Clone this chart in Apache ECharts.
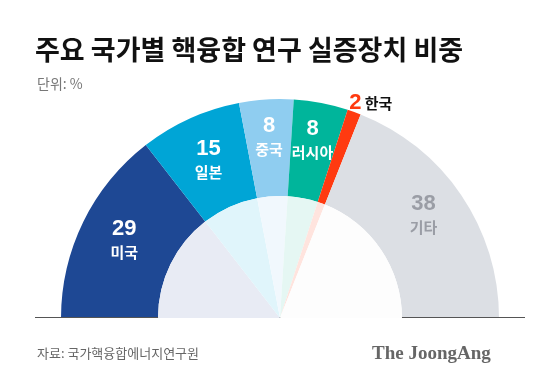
<!DOCTYPE html>
<html><head><meta charset="utf-8">
<script src="https://cdn.jsdelivr.net/npm/echarts@6/dist/echarts.min.js"></script>
<style>html,body{margin:0;padding:0;background:#fff}#c{width:559px;height:382px}</style>
</head><body><div id="c"></div>
<script>
const categories = ['미국', '일본', '중국', '러시아', '한국', '기타'];
const values = [29, 15, 8, 8, 2, 38];
const outerColors = ['#1e4894', '#00a5d6', '#8fcdf0', '#00b59b', '#ff3a10', '#dcdfe4'];
const innerColors = ['#e8ebf4', '#e0f5fb', '#f1f8fd', '#e5f7f3', '#ffe4de', '#fdfdfd'];
const labelOffsets = [[0, -2], [0, 0], [0, -8], [0, -8], [-7, -3], [0, -6]];

const FONT = '"Noto Sans CJK KR", "Noto Sans", sans-serif';
const NUMFONT = '"Liberation Sans", Arial, sans-serif';
const CX = 280, CY = 318;

const outerData = categories.map((name, i) => {
  const isKorea = name === '한국';
  const isOther = name === '기타';
  return {
    name, value: values[i],
    itemStyle: { color: outerColors[i] },
    label: isKorea ? {
      show: true, position: 'outside', distanceToLabelLine: 0, offset: labelOffsets[i],
      formatter: '{r|' + values[i] + '} {k|' + name + '}',
      rich: {
        r: { fontSize: 22, fontWeight: 'bold', color: '#ff3a10', fontFamily: NUMFONT },
        k: { fontSize: 15, color: '#111', fontFamily: FONT, fontWeight: 'bold', padding: [0, 0, 0, 0] }
      }
    } : {
      show: true, position: 'inside', offset: labelOffsets[i],
      formatter: '{v|' + values[i] + '}\n{n|' + name + '}',
      rich: {
        v: { fontSize: 22, fontWeight: 'bold', color: isOther ? '#9a9da5' : '#fff', fontFamily: NUMFONT, lineHeight: 25, align: 'center' },
        n: { fontSize: 15, fontWeight: 'bold', color: isOther ? '#9a9da5' : '#fff', fontFamily: FONT, lineHeight: 21, align: 'center' }
      }
    },
    labelLine: isKorea ? { show: false, length: 6, length2: 0 } : { show: false }
  };
});

const innerData = categories.map((name, i) => ({
  name, value: values[i], itemStyle: { color: innerColors[i] }
}));

const chart = echarts.init(document.getElementById('c'), null, { renderer: 'canvas' });
chart.setOption({
  backgroundColor: '#fff',
  animation: false,
  title: [
    { text: '주요 국가별 핵융합 연구 실증장치 비중', left: 30, top: 31,
      textStyle: { fontSize: 27, fontWeight: 'bold', color: '#111', fontFamily: FONT } },
    { text: '단위: %', left: 32, top: 72,
      textStyle: { fontSize: 14, fontWeight: 'normal', color: '#777', fontFamily: FONT } },
    { text: '자료: 국가핵융합에너지연구원', left: 32, top: 342,
      textStyle: { fontSize: 13, fontWeight: 'normal', color: '#666', fontFamily: FONT } },
    { text: 'The JoongAng', left: 367, top: 340,
      textStyle: { fontSize: 19, fontWeight: 'bold', color: '#666', fontFamily: '"Liberation Serif", "DejaVu Serif", serif' } }
  ],
  graphic: { elements: [
    { type: 'line', z: 3, silent: true,
      shape: { x1: 35, y1: CY - 0.5, x2: 525, y2: CY - 0.5 },
      style: { stroke: '#555', lineWidth: 1 } }
  ] },
  series: [
    { type: 'pie', z: 1, center: [CX, CY], radius: [122, 219],
      startAngle: 180, endAngle: 0, clockwise: true, silent: true,
      avoidLabelOverlap: false,
      itemStyle: { borderWidth: 0 },
      data: outerData },
    { type: 'pie', z: 5, center: [CX, CY], radius: [0, 122],
      startAngle: 180, endAngle: 0, clockwise: true, silent: true,
      label: { show: false }, labelLine: { show: false },
      itemStyle: { borderWidth: 0 },
      data: innerData }
  ]
});
</script></body></html>
